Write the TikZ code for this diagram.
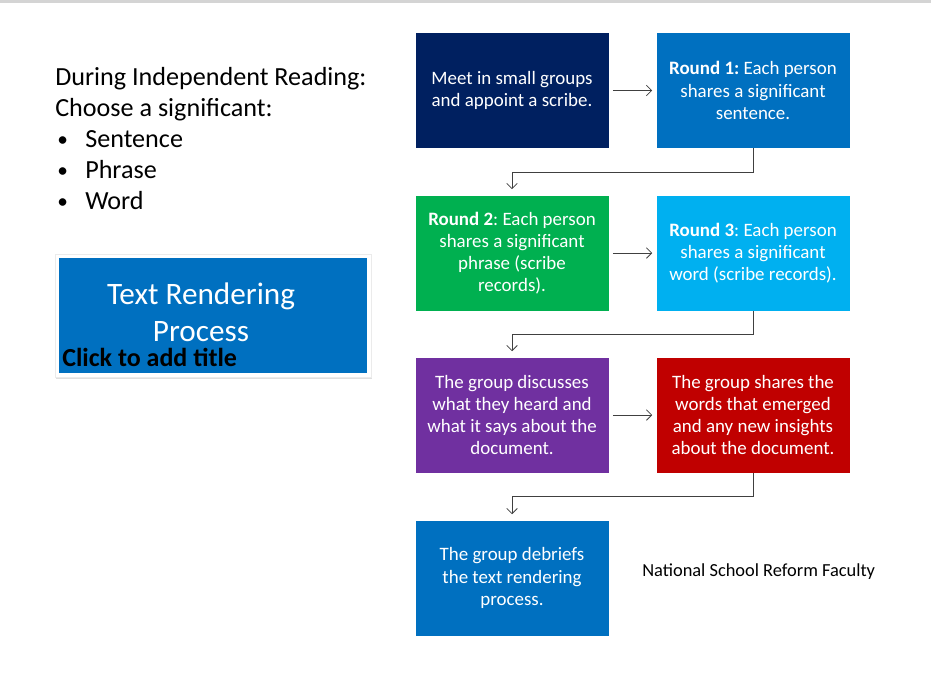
\documentclass[tikz,border=0pt]{standalone}
\usepackage{fontspec}
\setmainfont{Carlito}
\usetikzlibrary{arrows.meta,shadows}
\definecolor{Navy}{HTML}{002060}
\definecolor{Ocean}{HTML}{0070C0}
\definecolor{Leaf}{HTML}{00B050}
\definecolor{Sky}{HTML}{00B0F0}
\definecolor{Grape}{HTML}{7030A0}
\definecolor{Brick}{HTML}{C00000}
\definecolor{Wire}{HTML}{404040}
\definecolor{Rule}{HTML}{D4D4D4}
\frenchspacing

\begin{document}
\begin{tikzpicture}[x=0.75pt,y=-0.75pt,
    stepbox/.style={minimum width=193*0.75pt,minimum height=115*0.75pt,inner sep=0pt,
      align=center,text=white,font=\fontsize{14.2}{16.6}\selectfont},
    prompt/.style={anchor=base west,inner sep=0pt,font=\fontsize{19.6}{22}\selectfont},
    link/.style={Wire,line width=0.6pt,-{Straight Barb[length=4pt,width=8pt]}}]
        \useasboundingbox (0,0) rectangle (931,679);
        \fill[Rule] (0,0) rectangle (931,3);
        % reading prompt
        \node[prompt] (during) at (55,85) {During Independent Reading:};
        \node[prompt] (choose) at (55,116) {Choose a significant:};
        \foreach \y/\word in {147/Sentence,178/Phrase,209/Word}{
          \node[prompt,font=\fontsize{16}{20}\selectfont] (bul-\word) at (57,\y-1) {\textbullet};
          \node[prompt] (item-\word) at (85,\y) {\word};
        }
        % title panel
        \node[fill=white,draw=black!8,line width=0.4pt,minimum width=316*0.75pt,minimum height=123*0.75pt,
          drop shadow={opacity=0.25,shadow xshift=1pt,shadow yshift=-1.5pt}] (frame) at (213,315.5) {};
        \node[fill=Ocean,minimum width=308*0.75pt,minimum height=115*0.75pt,inner sep=0pt] (panel) at (frame) {};
        \node[text=white,align=center,inner sep=0pt,font=\fontsize{23.4}{27.5}\selectfont] (title) at (201,312) {Text Rendering\\Process};
        \node[anchor=base west,inner sep=0pt,font=\bfseries\fontsize{19.5}{22}\selectfont] (hint) at (62,366) {Click to add title};
        % steps
        \node[stepbox,fill=Navy] (meet) at (512,90.5) {Meet in small groups\\and appoint a scribe.};
        \node[stepbox,fill=Ocean] (round1) at (753,90.5) {\textbf{Round 1:} Each person\\shares a significant\\sentence.};
        \node[stepbox,fill=Leaf] (round2) at (512,253) {\textbf{Round 2}: Each person\\shares a significant\\phrase (scribe\\records).};
        \node[stepbox,fill=Sky] (round3) at (753,253) {\textbf{Round 3}: Each person\\shares a significant\\word (scribe records).};
        \node[stepbox,fill=Grape] (discuss) at (512,415) {The group discusses\\what they heard and\\what it says about the\\document.};
        \node[stepbox,fill=Brick] (share) at (753,415) {The group shares the\\words that emerged\\and any new insights\\about the document.};
        \node[stepbox,fill=Ocean] (debrief) at (512,578) {The group debriefs\\the text rendering\\process.};
        \node[anchor=west,inner sep=0pt,font=\fontsize{13.8}{16}\selectfont] (nsrf) at (642,572) {National School Reform Faculty};
        % connectors
        \draw[link,shorten <=3pt,shorten >=3pt] (meet) -- (round1);
        \draw[link,shorten <=3pt,shorten >=3pt] (round2) -- (round3);
        \draw[link,shorten <=3pt,shorten >=3pt] (discuss) -- (share);
        \draw[link,shorten >=4.5pt] (round1.south) -- ++(0,24) -| (round2.north);
        \draw[link,shorten >=4.5pt] (round3.south) -- ++(0,24) -| (discuss.north);
        \draw[link,shorten >=4.5pt] (share.south) -- ++(0,24) -| (debrief.north);
      \end{tikzpicture}
\end{document}
